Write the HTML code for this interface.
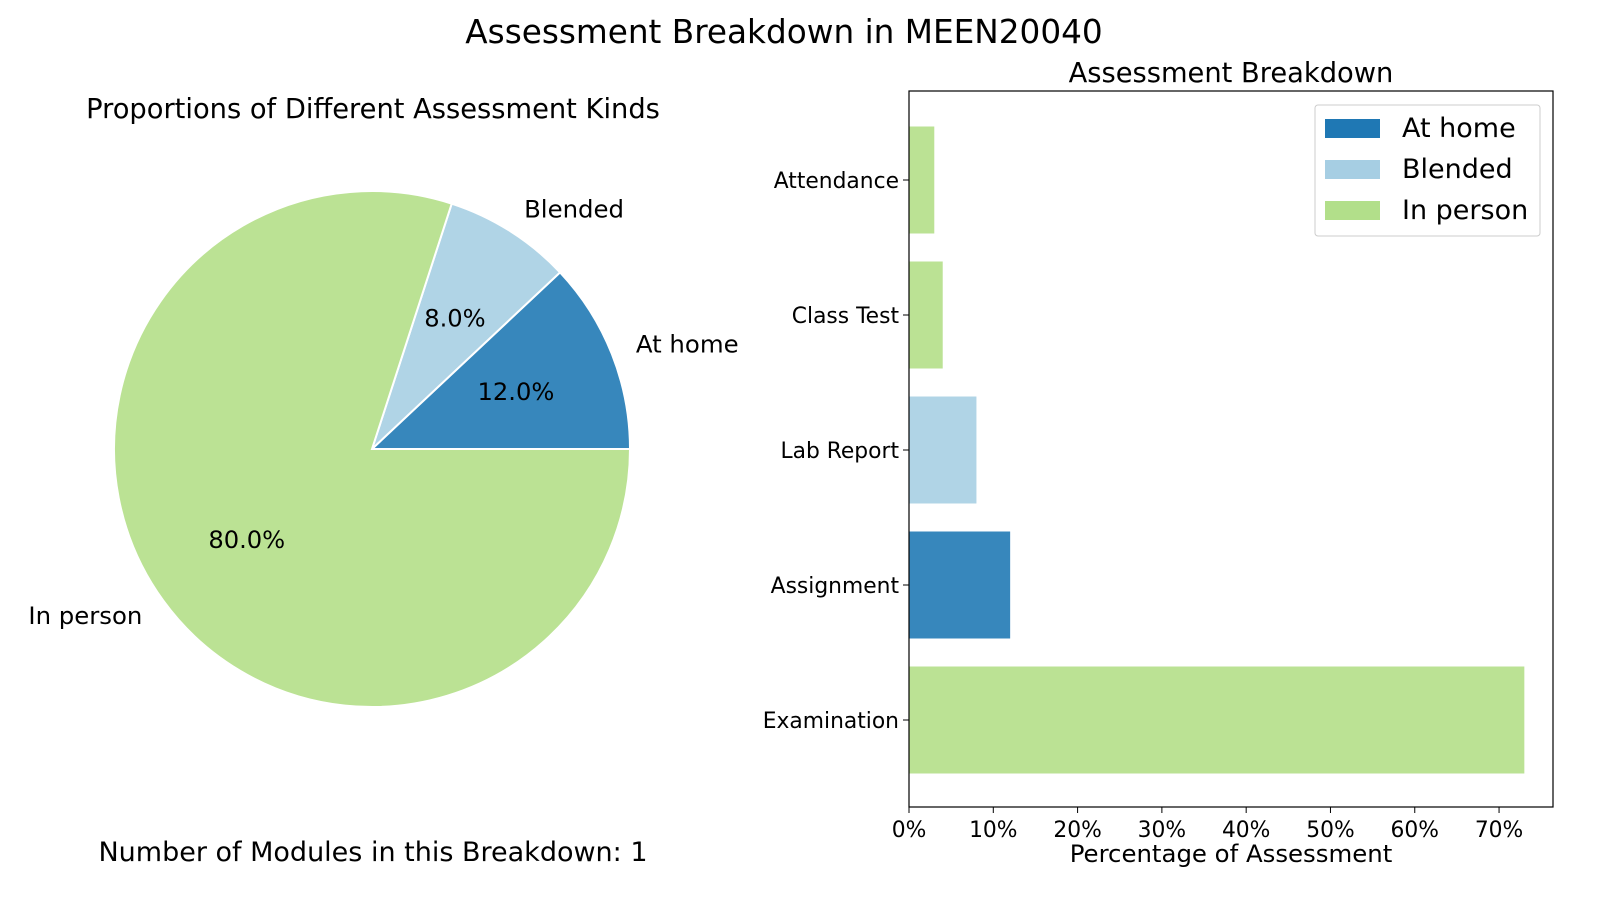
<!DOCTYPE html>
<html><head><meta charset="utf-8"><style>
html,body{margin:0;padding:0;background:#fff;overflow:hidden;width:1600px;height:900px;font-family:"Liberation Sans","DejaVu Sans",sans-serif}
svg{display:block}
svg text{font-family:"DejaVu Sans","Liberation Sans",sans-serif}
</style></head><body>
<svg id="c" width="1600" height="900" xmlns="http://www.w3.org/2000/svg">
<text x="784" y="43" font-size="32.7" text-anchor="middle">Assessment Breakdown in MEEN20040</text>
<text x="373" y="118" font-size="27.3" text-anchor="middle">Proportions of Different Assessment Kinds</text>
<text x="373" y="861" font-size="27" text-anchor="middle">Number of Modules in this Breakdown: 1</text>
<g id="pie"></g>
<text x="1231" y="82" font-size="27.3" text-anchor="middle">Assessment Breakdown</text>
<g id="bars"></g>
<rect x="909" y="91" width="644" height="716" fill="none" stroke="#000" stroke-width="1.2"/>
<text x="1231" y="862" font-size="24.4" text-anchor="middle">Percentage of Assessment</text>
<g>
<rect x="1315" y="105" width="225" height="131" fill="#fff" stroke="#ccc" rx="3"/>
<rect x="1325" y="119" width="55" height="19" fill="#1f78b4"/>
<text x="1402" y="137" font-size="27">At home</text>
<rect x="1325" y="160" width="55" height="19" fill="#a6cee3"/>
<text x="1402" y="178" font-size="27">Blended</text>
<rect x="1325" y="201" width="55" height="19" fill="#b2df8a"/>
<text x="1402" y="219" font-size="27">In person</text>
</g>
</svg>
<script>
const pieLabels=["At home","Blended","In person"];
const pieValues=[12,8,80];
const pieColors=["#3787bc","#b0d4e6","#bbe294"];
const barCategories=["Examination","Assignment","Lab Report","Class Test","Attendance"];
const barValues=[73,12,8,4,3];
const barKinds=["In person","At home","Blended","In person","In person"];
const xTicks=[0,10,20,30,40,50,60,70];
const NS="http://www.w3.org/2000/svg";
function mk(tag,attrs,parent,txt){const e=document.createElementNS(NS,tag);for(const k in attrs)e.setAttribute(k,attrs[k]);if(txt!=null)e.textContent=txt;parent.appendChild(e);return e;}
const pg=document.getElementById('pie');const cx=372,cy=449,R=258;
const tot=pieValues.reduce((a,b)=>a+b,0);let a0=0;
pieValues.forEach((v,i)=>{
 const a1=a0+v/tot*2*Math.PI;
 const x0=cx+R*Math.cos(a0),y0=cy-R*Math.sin(a0),x1=cx+R*Math.cos(a1),y1=cy-R*Math.sin(a1);
 const large=(a1-a0)>Math.PI?1:0;
 const p=mk('path',{d:`M${cx},${cy}L${x0},${y0}A${R},${R} 0 ${large} 0 ${x1},${y1}Z`,fill:pieColors[i],stroke:'#fff','stroke-width':2},pg);
 
 
 const m=(a0+a1)/2;
 const t=mk('text',{x:cx+R*1.1*Math.cos(m),y:cy-R*1.1*Math.sin(m)+8,'font-size':24.4,'text-anchor':Math.cos(m)>=0?'start':'end'},pg,pieLabels[i]);
 
 
 const q=mk('text',{x:cx+R*0.6*Math.cos(m),y:cy-R*0.6*Math.sin(m)+8,'font-size':24.2,'text-anchor':'middle'},pg,v.toFixed(1)+'%');
 
 
 a0=a1;
});
const bg=document.getElementById('bars');
const X0=909,X1=1553,xmax=76.4;const xs=v=>X0+v/xmax*(X1-X0);
const Ytop=91,Ybot=807;
const band=135,bh=107;const yc=i=>720-i*band;
const colorOf={"At home":"#3787bc","Blended":"#b0d4e6","In person":"#bbe294"};
barValues.forEach((v,i)=>{
 const r=mk('rect',{x:xs(0),y:yc(i)-bh/2,width:xs(v)-xs(0),height:bh,fill:colorOf[barKinds[i]]},bg);
 
 
 mk('line',{x1:X0-6,x2:X0,y1:yc(i),y2:yc(i),stroke:'#000'},bg);
 const t=mk('text',{x:X0-10,y:yc(i)+8,'font-size':21.8,'text-anchor':'end'},bg,barCategories[i]);
 
 
});
xTicks.forEach(v=>{
 mk('line',{x1:xs(v),x2:xs(v),y1:Ybot,y2:Ybot+6,stroke:'#000'},bg);
 const t=mk('text',{x:xs(v),y:Ybot+30,'font-size':21.8,'text-anchor':'middle'},bg,v+'%');
 
 
});
</script>
</body></html>
